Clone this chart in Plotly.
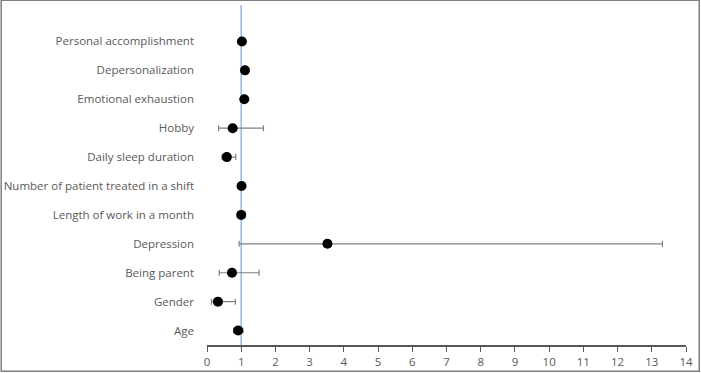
import plotly.graph_objects as go

categories = ["Age", "Gender", "Being parent", "Depression", "Length of work in a month",
              "Number of patient treated in a shift", "Daily sleep duration", "Hobby",
              "Emotional exhaustion", "Depersonalization", "Personal accomplishment"]
odds_ratio = [0.91, 0.32, 0.73, 3.52, 1.00, 1.01, 0.58, 0.75, 1.09, 1.11, 1.02]
ci_lower = [0.78, 0.13, 0.36, 0.94, 0.99, 1.00, 0.44, 0.34, 1.08, 1.10, 1.01]
ci_upper = [1.05, 0.83, 1.52, 13.31, 1.01, 1.02, 0.84, 1.65, 1.10, 1.12, 1.03]
x_ticks = list(range(0, 15))

W, H = 701, 373
L, R, T, B = 207, 15, 27, 28
pw = W - L - R
ph = H - T - B

fig = go.Figure()
fig.add_trace(go.Scatter(
    x=odds_ratio, y=categories, mode="markers",
    marker=dict(color="black", size=10),
    error_x=dict(type="data", symmetric=False,
                 array=[u - o for u, o in zip(ci_upper, odds_ratio)],
                 arrayminus=[o - l for o, l in zip(odds_ratio, ci_lower)],
                 color="#7f7f7f", thickness=1.2, width=3),
    showlegend=False, cliponaxis=False, hoverinfo="skip",
))

# reference line at 1
fig.add_shape(type="line", xref="x", yref="paper", x0=1, x1=1, y0=0, y1=1 + 22 / ph,
              line=dict(color="#8fbbe6", width=1.5), layer="below")
# outer border
fig.add_shape(type="rect", xref="paper", yref="paper",
              x0=-(L - 1.2) / pw, x1=(W - L - 1.8) / pw,
              y0=-(B - 1.8) / ph, y1=(H - T - 1.2) / ph,
              line=dict(color="#7f7f7f", width=1.5))

fig.update_layout(
    template="none",
    width=W, height=H, margin=dict(l=L, r=R, t=T, b=B, autoexpand=False),
    plot_bgcolor="white", paper_bgcolor="white",
    font=dict(family="Open Sans", size=11.5, color="#595959"),
    xaxis=dict(range=[0, 14], tickvals=x_ticks, showgrid=False, zeroline=False,
               automargin=False, fixedrange=True,
               showline=True, linecolor="#595959", linewidth=1.5,
               ticks="outside", ticklen=5, tickcolor="#595959", tickwidth=1.2,
               tickfont=dict(size=11.5, color="#595959")),
    yaxis=dict(categoryorder="array", categoryarray=categories, range=[-0.5, 10.5],
               automargin=False, fixedrange=True,
               showgrid=False, zeroline=False, showline=False, ticks="",
               ticklabelstandoff=12, tickfont=dict(size=11.5, color="#595959")),
)

fig.write_html("out.html", config={"displayModeBar": False},
               post_script="document.body.style.margin='0';document.body.style.overflow='hidden';")
